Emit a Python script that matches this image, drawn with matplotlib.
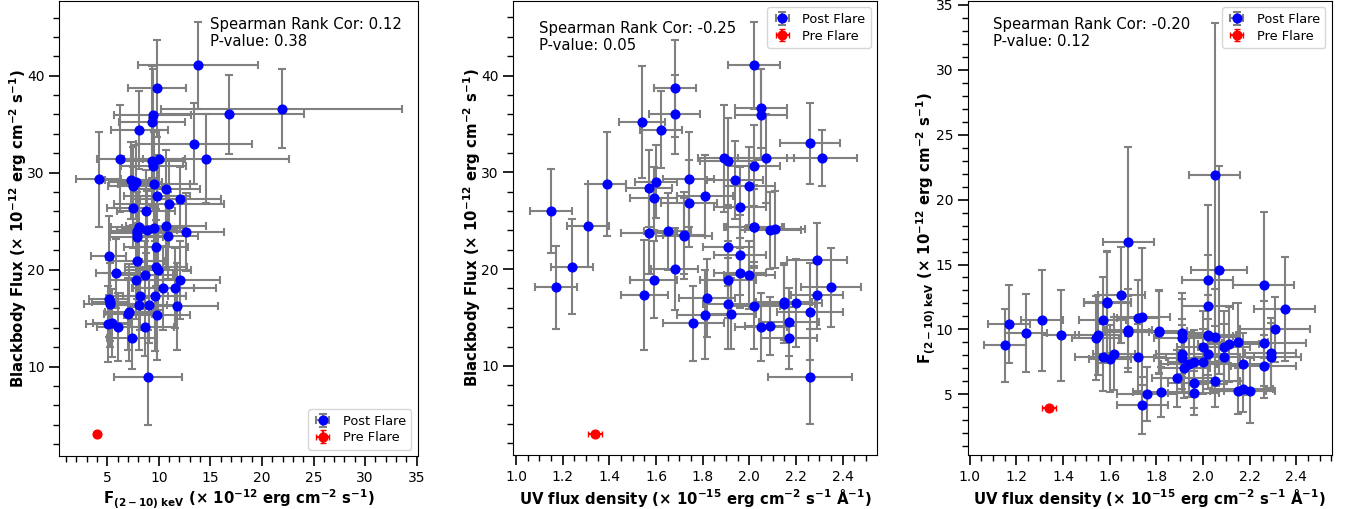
import numpy as np
import matplotlib
matplotlib.use("Agg")
import matplotlib.pyplot as plt
from matplotlib.ticker import MultipleLocator

# Post flare observations (same 61 epochs in all three panels)
xray = [13.81, 9.80, 21.93, 16.77, 9.40, 9.34, 8.12, 13.43, 14.60, 6.22,
        9.36, 9.48, 10.00, 4.15, 7.30, 7.74, 7.52, 9.54, 10.73, 9.79,
        12.09, 10.99, 7.46, 8.77, 8.09, 9.55, 10.69, 8.85, 12.64, 7.85,
        7.84, 10.90, 9.69, 5.12, 7.87, 9.73, 9.95, 5.84, 8.62, 7.77,
        12.07, 10.41, 11.54, 8.20, 9.58, 5.17, 5.28, 8.10, 9.03, 11.80,
        7.15, 7.02, 9.86, 5.04, 5.42, 6.04, 8.63, 7.36, 8.92, 5.26, 7.85]
xray_err = [5.8, 2.8, 11.7, 7.3, 3.75, 3.2, 2.8, 5.6, 8.0, 2.2,
            3.0, 3.2, 2.5, 2.2, 2.5, 2.6, 2.5, 3.5, 3.3, 3.2,
            3.95, 5.3, 2.5, 2.8, 2.7, 3.1, 3.9, 2.9, 3.7, 2.6,
            2.6, 2.9, 3.1, 1.7, 2.6, 3.0, 3.2, 1.9, 2.8, 2.6,
            3.9, 3.0, 4.0, 2.7, 3.1, 1.9, 2.5, 2.7, 3.0, 3.95,
            2.4, 2.3, 3.2, 2.1, 1.8, 2.0, 2.8, 2.4, 3.3, 1.75, 2.6]
bb = [41.07, 38.70, 36.60, 36.00, 35.95, 35.20, 34.40, 33.00, 31.45, 31.45,
      31.15, 30.70, 31.45, 29.30, 29.20, 29.05, 28.60, 28.80, 28.35, 27.60,
      27.30, 26.80, 26.40, 26.00, 24.40, 24.30, 24.50, 24.10, 23.90, 23.75,
      23.40, 23.50, 22.30, 21.45, 20.90, 20.25, 20.00, 19.60, 19.40, 18.90,
      18.90, 18.10, 18.10, 17.30, 17.30, 17.00, 16.50, 16.40, 16.40, 16.20,
      15.60, 15.40, 15.30, 14.40, 14.50, 14.05, 14.10, 12.90, 8.90, 16.65, 24.00]
bb_err = [4.5, 5.0, 4.1, 4.1, 4.7, 5.8, 4.0, 4.2, 4.6, 5.5,
          4.5, 4.2, 2.9, 4.9, 4.0, 3.8, 4.0, 5.4, 4.0, 4.2,
          3.3, 4.5, 4.2, 4.3, 4.3, 4.0, 4.3, 4.0, 4.0, 4.3,
          3.9, 4.5, 4.0, 4.1, 3.9, 4.9, 4.2, 3.6, 3.5, 4.0,
          4.0, 4.3, 4.1, 3.5, 5.7, 4.0, 4.5, 4.7, 4.0, 4.5,
          5.0, 3.7, 4.6, 3.9, 3.5, 3.5, 3.0, 3.2, 4.9, 4.0, 4.0]
uv = [2.02, 1.68, 2.05, 1.68, 2.05, 1.54, 1.62, 2.26, 2.07, 1.89,
      1.91, 2.02, 2.31, 1.74, 1.94, 1.60, 2.00, 1.39, 1.57, 1.81,
      1.59, 1.74, 1.96, 1.15, 2.02, 2.02, 1.31, 2.11, 1.65, 1.57,
      1.72, 1.72, 1.91, 1.96, 2.29, 1.24, 1.68, 1.96, 2.00, 1.91,
      1.59, 1.17, 2.35, 2.29, 1.55, 1.82, 2.20, 1.91, 2.15, 2.02,
      2.26, 1.92, 1.81, 1.76, 2.17, 2.05, 2.09, 2.17, 2.26, 2.15, 2.09]
uv_err = [0.11, 0.09, 0.11, 0.11, 0.11, 0.10, 0.09, 0.13, 0.12, 0.11,
          0.12, 0.11, 0.15, 0.11, 0.12, 0.09, 0.11, 0.08, 0.10, 0.12,
          0.10, 0.12, 0.11, 0.09, 0.13, 0.12, 0.09, 0.13, 0.10, 0.12,
          0.12, 0.09, 0.11, 0.11, 0.13, 0.09, 0.10, 0.11, 0.11, 0.12,
          0.10, 0.09, 0.13, 0.11, 0.10, 0.12, 0.11, 0.11, 0.13, 0.11,
          0.14, 0.11, 0.12, 0.13, 0.13, 0.11, 0.11, 0.12, 0.18, 0.12, 0.13]

# Pre flare observation
pre_xray, pre_xray_err = 3.97, 0.15
pre_bb, pre_bb_err = 3.0, 0.3
pre_uv, pre_uv_err = 1.34, 0.03

# Spearman results shown in each panel
stats = [(0.12, 0.38), (-0.25, 0.05), (-0.20, 0.12)]

xray_lab = r'$\mathbf{F_{(2-10)\ keV}}$ (× $\mathbf{10^{-12}}$ erg cm$^{\mathbf{-2}}$ s$^{\mathbf{-1}}$)'
bb_lab = r'Blackbody Flux (× $\mathbf{10^{-12}}$ erg cm$^{\mathbf{-2}}$ s$^{\mathbf{-1}}$)'
uv_lab = r'UV flux density (× $\mathbf{10^{-15}}$ erg cm$^{\mathbf{-2}}$ s$^{\mathbf{-1}}$ Å$^{\mathbf{-1}}$)'

fig = plt.figure(figsize=(13.56, 5.09), dpi=100)
ax1 = fig.add_axes([0.0437, 0.104, 0.2643, 0.894])
ax2 = fig.add_axes([0.3785, 0.1055, 0.2683, 0.8925])
ax3 = fig.add_axes([0.7136, 0.1055, 0.2685, 0.8925])

panels = [
    (ax1, xray, xray_err, bb, bb_err, pre_xray, pre_xray_err, pre_bb, pre_bb_err),
    (ax2, uv, uv_err, bb, bb_err, pre_uv, pre_uv_err, pre_bb, pre_bb_err),
    (ax3, uv, uv_err, xray, xray_err, pre_uv, pre_uv_err, pre_xray, pre_xray_err),
]

for ax, x, xe, y, ye, px, pxe, py, pye in panels:
    ax.errorbar(x, y, xerr=xe, yerr=ye, fmt='o', color='blue', ecolor='gray',
                markersize=6.3, elinewidth=1.5, capsize=3, capthick=1.5,
                label='Post Flare', zorder=3)
    ax.errorbar([px], [py], xerr=[pxe], yerr=[pye], fmt='o', color='red',
                ecolor='red', markersize=6.3, elinewidth=1.5, capsize=2,
                label='Pre Flare', zorder=3)
    ax.tick_params(which='major', length=7, width=1.2, labelsize=10)
    ax.tick_params(which='minor', length=4, width=1)

leg_kw = dict(fontsize=9.3, handlelength=1.5, labelspacing=0.3)
lab_kw = dict(fontsize=10.7, fontweight='bold')

# panel 1
ax1.set_xlim(0.34, 35.1)
ax1.set_ylim(0.77, 47.7)
ax1.xaxis.set_major_locator(MultipleLocator(5))
ax1.xaxis.set_minor_locator(MultipleLocator(1))
ax1.yaxis.set_major_locator(MultipleLocator(10))
ax1.yaxis.set_minor_locator(MultipleLocator(2))
ax1.set_xticks([5, 10, 15, 20, 25, 30, 35])
ax1.set_xlabel(xray_lab, labelpad=2, **lab_kw)
ax1.set_ylabel(bb_lab, labelpad=-1.5, **lab_kw)
ax1.legend(loc='lower right', **leg_kw)

# panel 2
ax2.set_xlim(0.988, 2.547)
ax2.set_ylim(0.76, 47.7)
ax2.xaxis.set_major_locator(MultipleLocator(0.2))
ax2.xaxis.set_minor_locator(MultipleLocator(0.05))
ax2.yaxis.set_major_locator(MultipleLocator(10))
ax2.yaxis.set_minor_locator(MultipleLocator(2))
ax2.set_xlabel(uv_lab, labelpad=2, **lab_kw)
ax2.set_ylabel(bb_lab, labelpad=-1.5, **lab_kw)
ax2.legend(loc='upper right', **leg_kw)

# panel 3
ax3.set_xlim(0.991, 2.552)
ax3.set_ylim(0.3, 35.3)
ax3.xaxis.set_major_locator(MultipleLocator(0.2))
ax3.xaxis.set_minor_locator(MultipleLocator(0.05))
ax3.yaxis.set_major_locator(MultipleLocator(5))
ax3.yaxis.set_minor_locator(MultipleLocator(1))
ax3.set_xlabel(uv_lab, labelpad=2, **lab_kw)
ax3.set_ylabel(xray_lab, labelpad=-1.5, **lab_kw)
ax3.legend(loc='upper right', **leg_kw)

text_pos = [(0.42, 0.965), (0.07, 0.955), (0.07, 0.965)]
for ax, (r, p), (tx, ty) in zip([ax1, ax2, ax3], stats, text_pos):
    ax.text(tx, ty, f'Spearman Rank Cor: {r:.2f}\nP-value: {p:.2f}',
            transform=ax.transAxes, fontsize=10.7, va='top', ha='left',
            linespacing=1.15)

fig.savefig('out.png', dpi=100)
